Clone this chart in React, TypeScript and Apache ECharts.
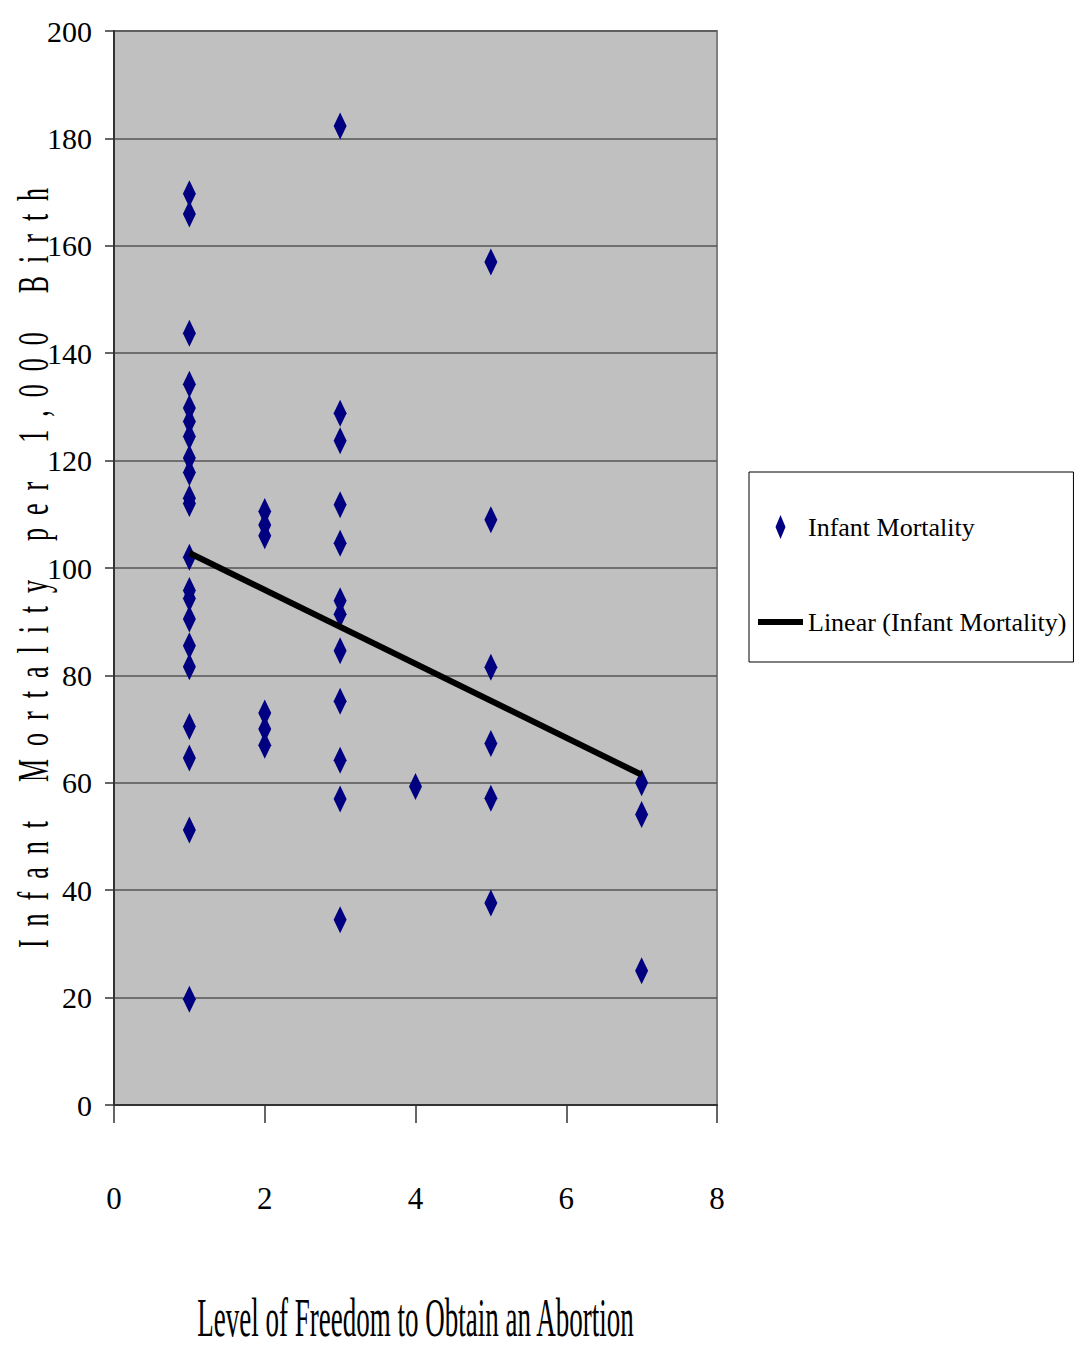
import React, { useEffect, useRef } from "react";
import * as echarts from "echarts";

// Level of freedom (x) groups and infant mortality readings (y)
const level1 = [169.7, 165.9, 143.7, 134.2, 129.8, 127.3, 124.5, 120.5, 117.8, 113, 112, 102, 95.8, 94.3, 90.5, 85.5, 81.6, 70.5, 64.6, 51.2, 19.7];
const level2 = [110.5, 108, 106, 73, 70, 67];
const level3 = [182.3, 128.8, 123.7, 111.8, 104.6, 93.9, 91.4, 84.6, 75.2, 64.2, 57, 34.5];
const level4 = [59.3];
const level5 = [157, 109, 81.5, 67.3, 57.1, 37.6];
const level7 = [60, 54.1, 25];

const levels = [1, 2, 3, 4, 5, 7];
const groups = [level1, level2, level3, level4, level5, level7];

// Linear trend line endpoints
const trendX = [1, 7];
const trendY = [102.8, 61.5];

const xTicks = { min: 0, max: 8, interval: 2 };
const yTicks = { min: 0, max: 200, interval: 20 };

const seriesName = "Infant Mortality";
const trendName = "Linear (Infant Mortality)";
const xTitle = "Level of Freedom to Obtain an Abortion";
const yTitle = "Infant Mortality per 1,000 Birth";

const FONT = "'Liberation Serif', 'Times New Roman', Times, serif";

function spaced(s: string): string {
  const words = s.split(" ");
  return words.map((w) => w.split("").join("\u2002")).join("\u2002\u2003");
}

export default function App() {
  const ref = useRef<HTMLDivElement>(null);
  useEffect(() => {
    if (!ref.current) return;
    const chart = echarts.init(ref.current, undefined, { renderer: "svg" });
    const points: number[][] = [];
    groups.forEach((g, i) => g.forEach((v) => points.push([levels[i], v])));
    const trend = trendX.map((x, i) => [x, trendY[i]]);

    chart.setOption({
      animation: false,
      backgroundColor: "#ffffff",
      grid: {
        left: 114,
        top: 31,
        right: 359,
        bottom: 242,
        show: true,
        backgroundColor: "#C0C0C0",
        borderColor: "#808080",
        borderWidth: 2,
      },
      xAxis: {
        type: "value",
        min: xTicks.min,
        max: xTicks.max,
        interval: xTicks.interval,
        axisLine: { show: true, onZero: false, lineStyle: { color: "#333333", width: 2 } },
        axisTick: { show: true, length: 18, lineStyle: { color: "#333333", width: 1.5 } },
        splitLine: { show: false },
        axisLabel: { fontFamily: FONT, fontSize: 31, color: "#000", margin: 78 },
      },
      yAxis: {
        type: "value",
        min: yTicks.min,
        max: yTicks.max,
        interval: yTicks.interval,
        axisLine: { show: true, lineStyle: { color: "#333333", width: 2 } },
        axisTick: { show: true, length: 9, lineStyle: { color: "#333333", width: 1.5 } },
        splitLine: { show: true, lineStyle: { color: "#555555", width: 1.5 } },
        axisLabel: { fontFamily: FONT, fontSize: 30, color: "#000", margin: 22 },
      },
      legend: {
        orient: "vertical",
        left: 749,
        top: 472,
        padding: [35, 7, 20, 9],
        borderColor: "#000",
        borderWidth: 1,
        backgroundColor: "#ffffff",
        itemWidth: 45,
        itemHeight: 24,
        itemGap: 55,
        textStyle: { fontFamily: FONT, fontSize: 26, color: "#000", lineHeight: 40 },
        data: [
          { name: seriesName, icon: "path://M5,0L10,12L5,24L0,12Z" },
          { name: trendName, icon: "path://M0,0L45,0L45,6L0,6Z" },
        ],
      },
      graphic: [
        {
          type: "text",
          x: 415.5,
          y: 1318,
          scaleY: 2.0,
          style: {
            text: xTitle,
            fontFamily: FONT,
            fontSize: 27,
            fill: "#000",
            textAlign: "center",
            textVerticalAlign: "middle",
          },
        },
        {
          type: "text",
          x: 33,
          y: 568,
          rotation: Math.PI / 2,
          scaleY: 1.7,
          style: {
            text: spaced(yTitle),
            fontFamily: FONT,
            fontSize: 26,
            fill: "#000",
            textAlign: "center",
            textVerticalAlign: "middle",
          },
        },
      ],
      series: [
        {
          name: seriesName,
          type: "scatter",
          symbol: "diamond",
          symbolSize: [13, 27],
          symbolKeepAspect: true,
          itemStyle: { color: "#000080", opacity: 1 },
          data: points,
          z: 2,
        },
        {
          name: trendName,
          type: "line",
          symbol: "none",
          itemStyle: { color: "#000000" },
          lineStyle: { color: "#000000", width: 6 },
          data: trend,
          z: 3,
        },
      ],
    });
    return () => chart.dispose();
  }, []);
  return (
    <div
      ref={ref}
      style={{ position: "fixed", left: 0, top: 0, width: 1076, height: 1347 }}
    />
  );
}
